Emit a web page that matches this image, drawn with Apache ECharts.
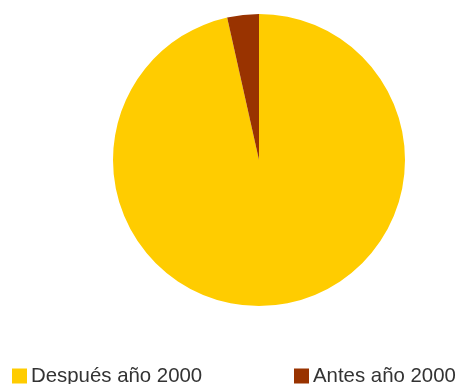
<!DOCTYPE html>
<html>
<head>
<meta charset="utf-8">
<script src="https://cdn.jsdelivr.net/npm/echarts@6/dist/echarts.min.js"></script>
<style>
  html, body { margin: 0; padding: 0; background: #fff; }
  #myChart { width: 457px; height: 384px; }
</style>
</head>
<body>
<div id="myChart"></div>
<script>
// slice names and shares (percent)
const categories = ['Después año 2000', 'Antes año 2000'];
const values = [96.5, 3.5];
const colors = ['#FFCC00', '#993300'];
const legendLeft = [12, 294];

const myChart = echarts.init(document.getElementById('myChart'));

const legendBase = {
  top: 366,
  padding: 0,
  itemWidth: 15,
  itemHeight: 15,
  icon: 'rect',
  textStyle: {
    fontFamily: 'Liberation Sans',
    fontSize: 20.4,
    color: '#333',
    padding: [0, 0, 0, -1]
  }
};

const option = {
  animation: false,
  color: colors,
  legend: categories.map((name, i) =>
    Object.assign({}, legendBase, { data: [name], left: legendLeft[i] })),
  series: [{
    type: 'pie',
    center: [259, 160],
    radius: 146,
    startAngle: 90,
    clockwise: true,
    label: { show: false },
    labelLine: { show: false },
    emphasis: { disabled: true },
    itemStyle: { borderWidth: 0 },
    data: categories.map((name, i) => ({ name: name, value: values[i] }))
  }]
};

myChart.setOption(option);
</script>
</body>
</html>
